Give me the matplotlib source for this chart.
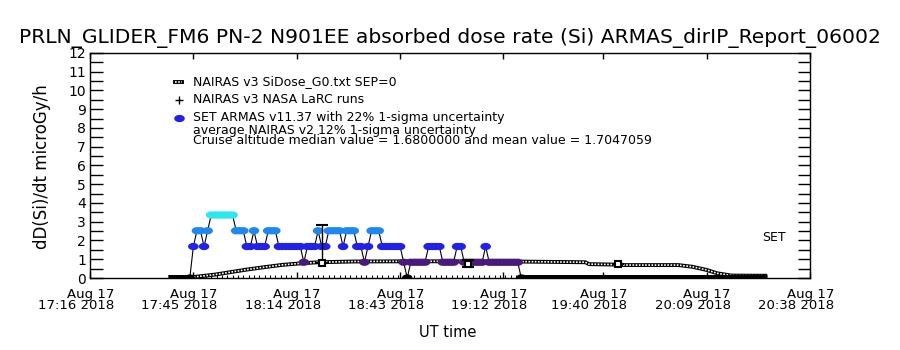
import numpy as np
import matplotlib
matplotlib.use("Agg")
import matplotlib.pyplot as plt
from matplotlib.transforms import ScaledTranslation


def hm(s):
    h, m = s.split(":")
    return int(h) * 60 + int(m)


# ---- data (UT, Aug 17 2018) ----
# ARMAS dose rate, 1 minute cadence starting 17:44
armas_start = "17:44"
armas_dose = [0.0, 1.68, 2.52, 2.52, 1.68, 2.52,
              3.36, 3.36, 3.36, 3.36, 3.36, 3.36, 3.36,
              2.52, 2.52, 2.52, 1.68, 1.68, 2.52, 1.68, 1.68, 1.68,
              2.52, 2.52, 2.52,
              1.68, 1.68, 1.68, 1.68, 1.68, 1.68, 1.68, 0.84,
              1.68, 1.68, 1.68, 2.52, 1.68, 1.68,
              2.52, 2.52, 2.52, 2.52, 1.68, 2.52, 2.52, 2.52,
              1.68, 1.68, 0.84, 1.68, 2.52, 2.52, 2.52,
              1.68, 1.68, 1.68, 1.68, 1.68, 1.68, 0.84, 0.0,
              0.84, 0.84, 0.84, 0.84, 0.84,
              1.68, 1.68, 1.68, 1.68, 0.84, 0.84, 0.84, 0.84,
              1.68, 1.68, 0.84, 0.84, 0.84, 0.84, 0.84, 0.84,
              1.68, 0.84, 0.84, 0.84, 0.84, 0.84, 0.84, 0.84, 0.84, 0.84,
              0.0]
armas_zero_periods = [("17:38", "17:44"), ("19:17", "20:26")]

# NAIRAS v3 SiDose_G0 curve
nairas_times = ["17:38", "17:45", "17:51", "17:55", "18:00", "18:05", "18:10",
                "18:15", "18:20", "18:30", "18:45", "19:00", "19:15", "19:30",
                "19:35", "19:36", "19:42", "19:46", "20:01", "20:05", "20:09",
                "20:12", "20:16", "20:26"]
nairas_dose = [0.03, 0.05, 0.18, 0.30, 0.45, 0.58, 0.70,
               0.78, 0.84, 0.88, 0.89, 0.89, 0.88, 0.85,
               0.84, 0.74, 0.72, 0.69, 0.69, 0.60, 0.43,
               0.25, 0.13, 0.12]

# NAIRAS v3 NASA LaRC runs
larc_times = ["18:21", "19:02", "19:44"]
larc_dose = [0.82, 0.77, 0.76]
larc_err_lo = [0.0, 0.17, 0.0]
larc_err_hi = [2.0, 0.17, 0.0]

tick_times = ["17:16", "17:45", "18:14", "18:43", "19:12", "19:40", "20:09", "20:38"]

level_colors = {0.0: "black", 0.84: "#4a1a7a", 1.68: "#2121e8",
                2.52: "#1f88f0", 3.36: "#2ee6f0"}

# flat ellipse marker like the IDL symbol
th = np.linspace(0, 2 * np.pi, 25)
ellipse = np.column_stack([1.45 * np.cos(th), np.sin(th)])

# ---- plot ----
fig = plt.figure(figsize=(9, 3.5), dpi=100)
ax = fig.add_axes([0.1, 0.2057, 0.8, 0.643])

t_armas = hm(armas_start) + np.arange(len(armas_dose))
t_nairas = [hm(t) for t in nairas_times]
t_larc = [hm(t) for t in larc_times]

# NAIRAS curve, chain look
ax.plot(t_nairas, nairas_dose, color="black", lw=2.8, solid_capstyle="butt", zorder=2)
ax.plot(t_nairas, nairas_dose, color="white", lw=1.2, dashes=(1.0, 0.9), zorder=2)

# ARMAS zero readings
for a, b in armas_zero_periods:
    ax.plot([hm(a), hm(b)], [0, 0], color="black", lw=5, solid_capstyle="butt", zorder=3)

# ARMAS line + coloured points
ax.plot(t_armas, armas_dose, color="black", lw=0.8, zorder=3)
cols = [level_colors[v] for v in armas_dose]
ax.scatter(t_armas, armas_dose, c=cols, s=58, marker=ellipse, linewidths=0, zorder=4)

# LaRC runs
ax.errorbar(t_larc, larc_dose, yerr=[larc_err_lo, larc_err_hi], fmt="s", ms=4.5,
            mfc="white", mec="black", mew=1.5, ecolor="black", elinewidth=1,
            capsize=4, zorder=5)

# axes
ax.set_xlim(hm("17:16"), hm("20:38"))
ax.set_ylim(0, 12)
ax.set_yticks(range(13))
ax.set_yticks(np.arange(0, 12.5, 0.5), minor=True)
ax.set_xticks([hm(t) for t in tick_times])
ax.set_xticklabels(["Aug 17\n%s 2018" % t for t in tick_times])
ax.set_xticks(np.arange(hm("17:45") + 0.5, hm("19:16"), 1.5), minor=True)
ax.tick_params(axis="y", which="both", direction="in", length=9, width=1,
               left=True, right=True, labelsize=10, pad=3)
ax.tick_params(axis="x", which="major", direction="in", length=4, width=1,
               top=True, bottom=True, labelsize=9.5, pad=7)
ax.tick_params(axis="x", which="minor", direction="in", length=2.2, width=0.8,
               top=False, bottom=True)
for lbl in ax.get_xticklabels():
    lbl.set_ha("right")
    lbl.set_multialignment("right")
    lbl.set_linespacing(0.85)
    lbl.set_transform(lbl.get_transform() + ScaledTranslation(0.24, 0, fig.dpi_scale_trans))
for s in ax.spines.values():
    s.set_linewidth(1)

# legend block
tr = ax.transAxes
ax.plot([0.118, 0.128], [0.871, 0.871], transform=tr, color="black", lw=2.8, clip_on=False)
ax.plot([0.118, 0.128], [0.871, 0.871], transform=tr, color="white", lw=1.2,
        dashes=(1.0, 0.9), clip_on=False)
ax.plot([0.123], [0.789], transform=tr, marker="+", color="black", ms=6, mew=1, clip_on=False)
ax.scatter([0.123], [0.711], transform=tr, c="#2121e8", s=58, marker=ellipse,
           linewidths=0, clip_on=False)
fs = 9
ax.text(0.143, 0.871, "NAIRAS v3 SiDose_G0.txt SEP=0", transform=tr, fontsize=fs, va="center")
ax.text(0.143, 0.791, "NAIRAS v3 NASA LaRC runs", transform=tr, fontsize=fs, va="center")
ax.text(0.143, 0.711, "SET ARMAS v11.37 with 22% 1-sigma uncertainty", transform=tr,
        fontsize=fs, va="center")
ax.text(0.143, 0.657, "average NAIRAS v2 12% 1-sigma uncertainty", transform=tr,
        fontsize=fs, va="center")
ax.text(0.143, 0.610, "Cruise altitude median value = 1.6800000 and mean value = 1.7047059",
        transform=tr, fontsize=fs, va="center")
ax.text(0.933, 0.18, "SET", transform=tr, fontsize=fs, va="center")

fig.text(0.5, 0.891, "PRLN_GLIDER_FM6 PN-2 N901EE absorbed dose rate (Si) ARMAS_dirIP_Report_06002",
         ha="center", va="center", fontsize=14.6)
fig.text(0.047, 0.523, "dD(Si)/dt microGy/h", rotation=90, ha="center", va="center", fontsize=12)
fig.text(0.497, 0.051, "UT time", ha="center", va="center", fontsize=10.5)

fig.savefig("out.png", dpi=100)
